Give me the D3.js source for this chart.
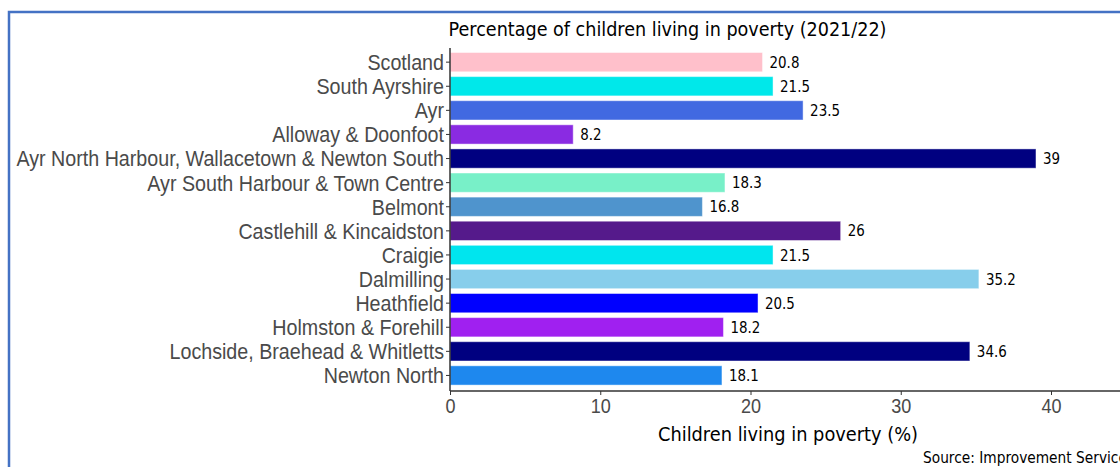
<!DOCTYPE html>
<html><head><meta charset="utf-8">
<script src="https://cdn.jsdelivr.net/npm/d3@7"></script>
<style>
html,body{margin:0;padding:0;background:#fff;}
svg{display:block;font-family:"DejaVu Sans",sans-serif;}
</style></head>
<body>
<script>
const categories = ["Scotland","South Ayrshire","Ayr","Alloway & Doonfoot","Ayr North Harbour, Wallacetown & Newton South","Ayr South Harbour & Town Centre","Belmont","Castlehill & Kincaidston","Craigie","Dalmilling","Heathfield","Holmston & Forehill","Lochside, Braehead & Whitletts","Newton North"];
const values = [20.8,21.5,23.5,8.2,39,18.3,16.8,26,21.5,35.2,20.5,18.2,34.6,18.1];
const valueLabels = ["20.8","21.5","23.5","8.2","39","18.3","16.8","26","21.5","35.2","20.5","18.2","34.6","18.1"];
const barColors = ["#FFC0CB","#00E8EA","#4169E1","#8A2BE2","#000080","#78F0C8","#4F94CD","#551A8B","#00E5EE","#87CEEB","#0000FF","#A020F0","#000080","#1E88EE"];
const xTicks = [0,10,20,30,40];
const title = "Percentage of children living in poverty (2021/22)";
const xTitle = "Children living in poverty (%)";
const source = "Source: Improvement Service";

const W = 1120, H = 467;
const svg = d3.select("body").append("svg").attr("width", W).attr("height", H);

// frame
svg.append("path").attr("d", `M9,${H} V12 H${W}`).attr("fill","none").attr("stroke","#4472C4").attr("stroke-width",2.5);

const x = d3.scaleLinear().domain([0,40]).range([450,1051]);
const y = d3.scaleBand().domain(categories).range([50.1, 387.5]).paddingInner(0.2).paddingOuter(0.1);

function squeeze(sel, tx, ty, s){
  sel.attr("x",0).attr("y",0).attr("transform",`translate(${tx},${ty}) scale(${s},1)`);
}

const g = svg.append("g");
g.selectAll("rect.bar").data(values).join("rect")
  .attr("class","bar")
  .attr("x", x(0))
  .attr("y", (d,i)=>y(categories[i]))
  .attr("width", d=>x(d)-x(0))
  .attr("height", y.bandwidth())
  .attr("fill", (d,i)=>barColors[i])
  .attr("stroke", "rgba(255,255,255,0.45)").attr("stroke-width",1);

g.selectAll("text.val").data(values).join("text")
  .attr("class","val")
  .attr("dy","0.35em")
  .attr("font-size",16)
  .attr("fill","#000")
  .text((d,i)=>valueLabels[i])
  .each(function(d,i){
    d3.select(this).attr("x",0).attr("y",0)
      .attr("transform",`translate(${x(d)+7},${y(categories[i])+y.bandwidth()/2}) scale(0.84,1)`);
  });

// y axis
const yAxis = d3.axisLeft(y).tickSize(4).tickPadding(2);
const ya = svg.append("g").attr("transform",`translate(${x(0)},0)`).call(yAxis);
ya.select(".domain").attr("d", `M0,48V391`).attr("stroke","#333").attr("stroke-width",1.5);
ya.selectAll(".tick line").attr("stroke","#333");
ya.selectAll(".tick text").attr("font-size",22).attr("fill","#4a4a4a").attr("dy","0.36em")
  .each(function(){ squeeze(d3.select(this), -6, 0, 0.895); });

// x axis
const xAxis = d3.axisBottom(x).tickValues(xTicks).tickSize(4).tickPadding(3);
const xa = svg.append("g").attr("transform",`translate(0,391)`).call(xAxis);
xa.select(".domain").attr("d", `M${x(0)},0H${W}`).attr("stroke","#333").attr("stroke-width",1.5);
xa.selectAll(".tick line").attr("stroke","#333");
xa.selectAll(".tick text").attr("font-size",21).attr("fill","#4a4a4a").attr("dy","0.71em")
  .each(function(){ squeeze(d3.select(this), 0, 7, 0.86); });

const t1 = svg.append("text").attr("text-anchor","middle").attr("font-size",20).attr("fill","#000").text(title);
squeeze(t1, 667.5, 36, 0.88);
const t2 = svg.append("text").attr("text-anchor","middle").attr("font-size",20).attr("fill","#000").text(xTitle);
squeeze(t2, 788, 441, 0.89);
const t3 = svg.append("text").attr("font-size",16).attr("fill","#000").text(source);
squeeze(t3, 923, 463, 0.86);
</script>
</body></html>
